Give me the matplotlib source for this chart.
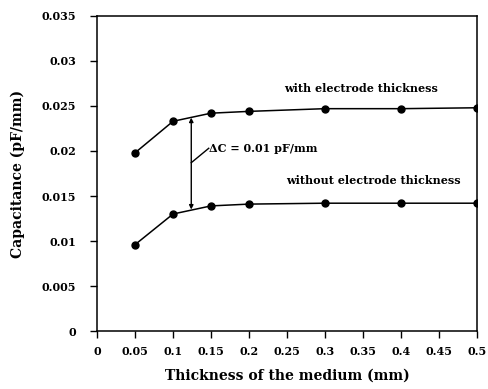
import matplotlib
matplotlib.use('Agg')
import matplotlib.pyplot as plt

thickness = [0.05, 0.1, 0.15, 0.2, 0.3, 0.4, 0.5]
with_electrode = [0.0198, 0.0233, 0.0242, 0.0244, 0.0247, 0.0247, 0.0248]
without_electrode = [0.0096, 0.0130, 0.0139, 0.0141, 0.0142, 0.0142, 0.0142]
xticks = [0, 0.05, 0.1, 0.15, 0.2, 0.25, 0.3, 0.35, 0.4, 0.45, 0.5]
yticks = [0, 0.005, 0.01, 0.015, 0.02, 0.025, 0.03, 0.035]

plt.rcParams['font.family'] = 'DejaVu Serif'
plt.rcParams['font.weight'] = 'bold'
plt.rcParams['axes.labelweight'] = 'bold'

fig = plt.figure(figsize=(4.88, 3.89), dpi=100)
ax = fig.add_axes([0.199, 0.149, 0.778, 0.81])

ax.plot(thickness, with_electrode, 'k-', marker='o', markersize=5, linewidth=1.1)
ax.plot(thickness, without_electrode, 'k-', marker='o', markersize=5, linewidth=1.1)

ax.set_xlim(0, 0.5)
ax.set_ylim(0, 0.035)
ax.set_xticks(xticks)
ax.set_xticklabels(['0', '0.05', '0.1', '0.15', '0.2', '0.25', '0.3', '0.35', '0.4', '0.45', '0.5'])
ax.set_yticks(yticks)
ax.set_yticklabels(['0', '0.005', '0.01', '0.015', '0.02', '0.025', '0.03', '0.035'])
ax.tick_params(direction='out', length=5, width=1, labelsize=8, pad=10)
ax.tick_params(axis='x', pad=6)
for s in ax.spines.values():
    s.set_linewidth(1.1)

ax.set_xlabel('Thickness of the medium (mm)', fontsize=10, labelpad=8)
ax.set_ylabel('Capacitance (pF/mm)', fontsize=10, labelpad=12)

# delta C arrow
ax.annotate('', xy=(0.124, 0.0135), xytext=(0.124, 0.0237),
            arrowprops=dict(arrowstyle='<|-|>', color='k', lw=1.0,
                            mutation_scale=6, shrinkA=0, shrinkB=0))
ax.plot([0.124, 0.147], [0.0187, 0.0203], 'k-', linewidth=1.0)
ax.text(0.147, 0.0203, '\u0394C = 0.01 pF/mm', fontsize=8, va='center', ha='left')

ax.text(0.348, 0.0269, 'with electrode thickness', fontsize=8, ha='center', va='center')
ax.text(0.364, 0.0167, 'without electrode thickness', fontsize=8, ha='center', va='center')

fig.savefig('out.png', dpi=100)
